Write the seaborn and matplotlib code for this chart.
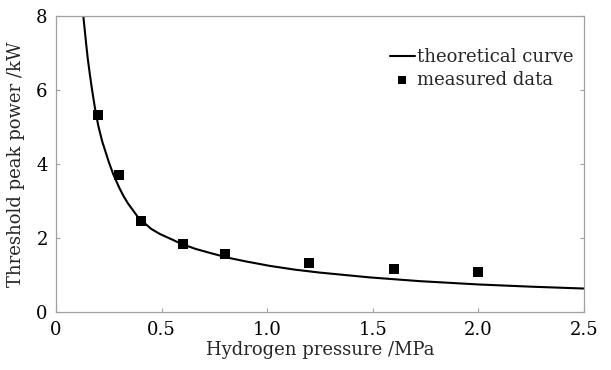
import matplotlib
matplotlib.use('Agg')
import matplotlib.pyplot as plt
import pandas as pd
import seaborn as sns

# Curve values
curve_x = [0.129, 0.142, 0.15, 0.161, 0.17, 0.185, 0.2, 0.219, 0.25, 0.271,
           0.3, 0.319, 0.34, 0.39, 0.45, 0.492, 0.55, 0.595, 0.66, 0.729,
           0.815, 0.9, 1.013, 1.13, 1.249, 1.486, 1.72, 2.0, 2.25, 2.5]
curve_y = [8.0, 7.27, 6.85, 6.38, 6.02, 5.48, 5.03, 4.60, 4.05, 3.72,
           3.35, 3.14, 2.94, 2.55, 2.25, 2.11, 1.96, 1.84, 1.71, 1.60,
           1.47, 1.37, 1.25, 1.15, 1.07, 0.94, 0.84, 0.75, 0.69, 0.64]

# Measured points
pressure = [0.2, 0.3, 0.4, 0.6, 0.8, 1.2, 1.6, 2.0]
power = [5.33, 3.70, 2.47, 1.83, 1.57, 1.34, 1.17, 1.08]

x_ticks = [0, 0.5, 1.0, 1.5, 2.0, 2.5]
x_tick_labels = ['0', '0.5', '1.0', '1.5', '2.0', '2.5']
y_ticks = [0, 2, 4, 6, 8]

sns.set_style('white')
plt.rcParams['font.family'] = ['DejaVu Serif']
plt.rcParams['mathtext.fontset'] = 'dejavuserif'

curve_df = pd.DataFrame({'x': curve_x, 'y': curve_y})
data_df = pd.DataFrame({'x': pressure, 'y': power})

fig = plt.figure(figsize=(6.11, 3.70), dpi=100)
ax = fig.add_axes([0.0917, 0.156, 0.8642, 0.802])

sns.lineplot(data=curve_df, x='x', y='y', ax=ax, color='black', linewidth=1.5,
             label='theoretical curve', sort=True)
sns.scatterplot(data=data_df, x='x', y='y', ax=ax, marker='s', color='black',
                s=55, edgecolor='black', linewidth=0, label='measured data', zorder=3)

ax.set_xlim(0, 2.5)
ax.set_ylim(0, 8)
ax.set_xticks(x_ticks)
ax.set_xticklabels(x_tick_labels)
ax.set_yticks(y_ticks)
ax.set_xlabel('Hydrogen pressure /MPa', fontsize=13, labelpad=2)
ax.set_ylabel('Threshold peak power /kW', fontsize=13, labelpad=8)

for side in ['left', 'right', 'top', 'bottom']:
    ax.spines[side].set_visible(True)
    ax.spines[side].set_color('#a0a0a0')
    ax.spines[side].set_linewidth(0.9)

ax.tick_params(axis='both', direction='in', length=3, width=0.8, color='#a0a0a0',
               labelsize=13, labelcolor='black', pad=6,
               bottom=True, left=True, right=True, top=False)

ax.legend(loc='upper right', bbox_to_anchor=(1.01, 0.945), frameon=False,
          fontsize=13, handlelength=1.4, handletextpad=0.1, labelspacing=0.25,
          markerscale=0.8)

fig.savefig('out.png', dpi=100)
